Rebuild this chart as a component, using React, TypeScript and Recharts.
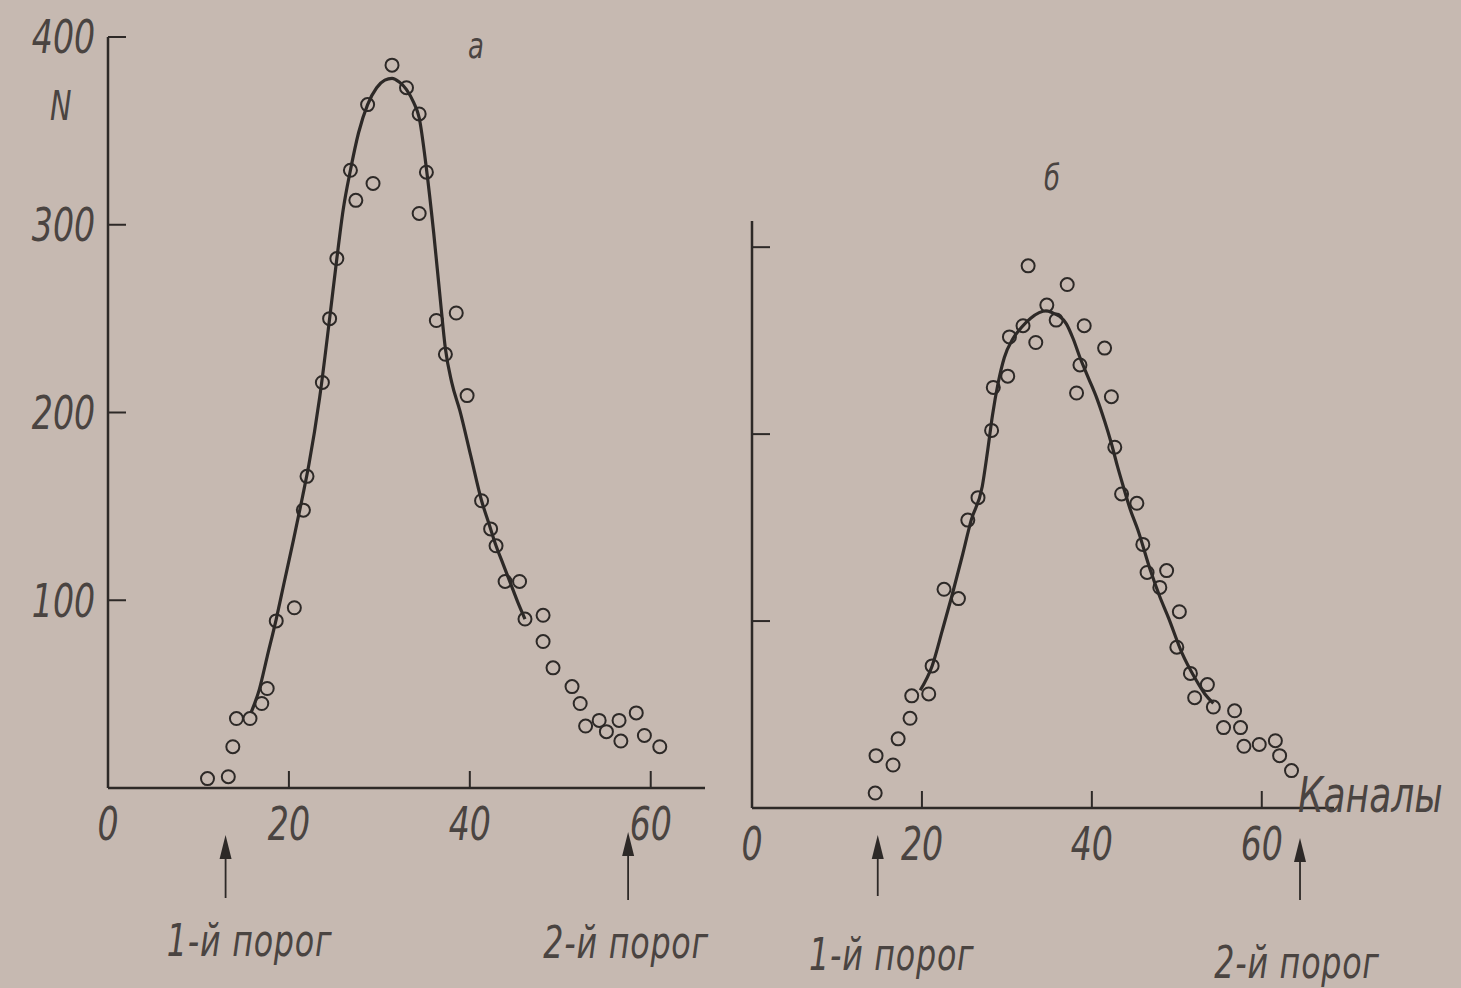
import { ComposedChart, Line, Scatter, XAxis, YAxis, ReferenceLine } from 'recharts';

// ---------- panel "а" ----------
const LEFT_PT_CH = [11.0, 13.3, 13.8, 14.2, 15.7, 17.0, 17.6, 18.6, 20.6, 21.6, 22.0, 23.7, 24.5, 25.3, 26.8, 27.4, 28.7, 29.3, 31.4, 33.0, 34.4, 34.4, 35.2, 36.3, 37.3, 38.5, 39.7, 41.3, 42.3, 42.9, 43.9, 45.5, 46.1, 48.1, 48.1, 49.2, 51.3, 52.2, 52.8, 54.3, 55.1, 56.5, 56.7, 58.4, 59.3, 61.0];
const LEFT_PT_N = [5, 6, 22, 37, 37, 45, 53, 89, 96, 148, 166, 216, 250, 282, 329, 313, 364, 322, 385, 373, 359, 306, 328, 249, 231, 253, 209, 153, 138, 129, 110, 110, 90, 92, 78, 64, 54, 45, 33, 36, 30, 36, 25, 40, 28, 22];

const LEFT_CURVE_CH = [15.8, 16.7, 17.6, 18.6, 19.5, 20.5, 21.5, 22.2, 23.4, 24.5, 25.3, 26.0, 26.8, 27.7, 28.7, 29.7, 30.6, 31.4, 32.2, 33.0, 33.8, 34.4, 35.2, 36.0, 36.7, 37.3, 38.0, 38.9, 40.1, 41.3, 42.1, 42.9, 43.7, 44.5, 45.3, 46.1];
const LEFT_CURVE_N = [40, 52, 70, 90, 110, 132, 155, 172, 208, 250, 282, 308, 329, 349, 364, 373, 377, 378, 376, 372, 365, 357, 330, 296, 262, 234, 216, 201, 177, 153, 141, 129, 119, 109, 99, 90];

const LEFT_X_TICKS = [0, 20, 40, 60];
const LEFT_Y_TICKS = [100, 200, 300, 400];

// ---------- panel "б" ----------
const RIGHT_PT_CH = [14.5, 14.6, 16.6, 17.2, 18.6, 18.8, 20.8, 21.2, 22.6, 24.3, 25.4, 26.6, 28.2, 28.4, 30.1, 30.3, 31.9, 32.5, 33.4, 34.7, 35.8, 37.1, 38.2, 38.6, 39.1, 41.5, 42.3, 42.7, 43.5, 45.3, 46.0, 46.5, 48.0, 48.8, 50.0, 50.3, 51.6, 52.1, 53.6, 54.3, 55.5, 56.8, 57.5, 57.9, 59.7, 61.6, 62.1, 63.5];
const RIGHT_PT_N = [8, 28, 23, 37, 48, 60, 61, 76, 117, 112, 154, 166, 202, 225, 231, 252, 258, 290, 249, 269, 261, 280, 222, 237, 258, 246, 220, 193, 168, 163, 141, 126, 118, 127, 86, 105, 72, 59, 66, 54, 43, 52, 43, 33, 34, 36, 28, 20];

const RIGHT_CURVE_CH = [19.8, 21.2, 22.4, 23.5, 24.7, 25.8, 27.1, 27.7, 28.3, 29.0, 29.7, 30.7, 31.7, 32.8, 33.8, 34.6, 35.3, 36.2, 37.0, 37.8, 38.6, 39.6, 40.6, 41.5, 42.3, 43.0, 43.7, 44.5, 45.4, 46.9, 48.0, 49.0, 50.6, 52.2, 53.3, 54.3];
const RIGHT_CURVE_N = [63, 76, 95, 113, 134, 154, 172, 190, 210, 228, 241, 251, 257, 262, 265, 266, 265, 263, 259, 251, 241, 230, 219, 207, 195, 183, 172, 160, 149, 127, 113, 102, 83, 69, 61, 56];

const RIGHT_X_TICKS = [0, 20, 40, 60];
const RIGHT_Y_TICKS = [100, 200, 300];

// thresholds (channels)
const LEFT_THRESHOLDS = [13, 57.5];
const RIGHT_THRESHOLDS = [14.8, 64.5];
const THRESHOLD_LABELS = ['1-й порог', '2-й порог'];

const zip = (xs: number[], ys: number[]) => xs.map((ch, i) => ({ ch, n: ys[i] }));

const BG = '#c6b9b1';
const INK = '#2d2927';
const TEXT = '#4a4441';
const FONT = "'DejaVu Sans Condensed', 'DejaVu Sans', sans-serif";
const SQUEEZE = 0.8;

// italic, squeezed tick text (the book uses a narrow drafting font)
const narrowTick = (dy: string, size: number) => (p: any) => (
  <g transform={`translate(${p.x},${p.y})`}>
    <text
      transform={`scale(${SQUEEZE},1)`}
      textAnchor={p.textAnchor}
      dy={dy}
      fontSize={size}
      fontStyle="italic"
      fontFamily={FONT}
      fill={TEXT}
    >
      {p.payload.value}
    </text>
  </g>
);

const noTick = () => <g />;

const Ring = (p: any) => (
  <circle cx={p.cx} cy={p.cy} r={6.5} fill="none" stroke={INK} strokeWidth={2} />
);

function ThresholdMark(p: any) {
  const x = p.x1;
  const bottom = Math.max(p.y1, p.y2);
  const top = bottom + p.head;
  return (
    <g>
      <line x1={x} x2={x} y1={top + 12} y2={bottom + p.tail} stroke={INK} strokeWidth={1.8} />
      <polygon points={`${x},${top} ${x - 6},${top + 24} ${x + 6},${top + 24}`} fill={INK} />
      <g transform={`translate(${x + p.dx},${bottom + p.textY})`}>
        <text
          transform={`scale(${SQUEEZE},1)`}
          textAnchor="middle"
          fontSize={44}
          fontStyle="italic"
          fontFamily={FONT}
          fill={TEXT}
          letterSpacing={1}
        >
          {p.caption}
        </text>
      </g>
    </g>
  );
}

function Panel({
  pts,
  curve,
  xTicks,
  yTicks,
  yDomain,
  xMax,
  width,
  height,
  xAxisHeight,
  marginTop,
  marginLeft,
  marginRight,
  showYLabels,
  thresholds,
  mark,
}: any) {
  return (
    <ComposedChart
      width={width}
      height={height}
      margin={{ top: marginTop, right: marginRight, left: marginLeft, bottom: 0 }}
    >
      <XAxis
        type="number"
        dataKey="ch"
        domain={[0, xMax]}
        ticks={xTicks}
        allowDataOverflow
        height={xAxisHeight}
        tickSize={-17}
        tickMargin={36}
        axisLine={{ stroke: INK, strokeWidth: 2.5 }}
        tickLine={{ stroke: INK, strokeWidth: 2 }}
        tick={narrowTick('0.71em', 46)}
      />
      <YAxis
        type="number"
        dataKey="n"
        domain={yDomain}
        ticks={yTicks}
        allowDataOverflow
        width={100}
        tickSize={-18}
        tickMargin={31}
        axisLine={{ stroke: INK, strokeWidth: 2.5 }}
        tickLine={{ stroke: INK, strokeWidth: 2 }}
        tick={showYLabels ? narrowTick('0.355em', 46) : noTick}
      />
      <Line
        data={curve}
        dataKey="n"
        type="monotone"
        dot={false}
        stroke={INK}
        strokeWidth={3.2}
        isAnimationActive={false}
      />
      <Scatter data={pts} dataKey="n" shape={Ring} isAnimationActive={false} />
      {thresholds.map((t: number, i: number) => (
        <ReferenceLine
          key={t}
          x={t}
          shape={(p: any) => (
            <ThresholdMark {...p} {...mark[i]} caption={THRESHOLD_LABELS[i]} />
          )}
        />
      ))}
    </ComposedChart>
  );
}

const label = (left: number, top: number, size: number, text: string) => (
  <div
    style={{
      position: 'absolute',
      left,
      top,
      fontSize: size,
      fontStyle: 'italic',
      fontFamily: FONT,
      color: TEXT,
      lineHeight: 1,
      whiteSpace: 'nowrap',
      transform: `scaleX(${SQUEEZE})`,
      transformOrigin: 'left top',
    }}
  >
    {text}
  </div>
);

export default function App() {
  return (
    <div
      style={{
        position: 'absolute',
        left: 0,
        top: 0,
        width: 1461,
        height: 988,
        background: BG,
        overflow: 'hidden',
      }}
    >
      <div style={{ position: 'absolute', left: 0, top: 0 }}>
        <Panel
          pts={zip(LEFT_PT_CH, LEFT_PT_N)}
          curve={zip(LEFT_CURVE_CH, LEFT_CURVE_N)}
          xTicks={LEFT_X_TICKS}
          yTicks={LEFT_Y_TICKS}
          yDomain={[0, 400]}
          xMax={66}
          width={715}
          height={988}
          xAxisHeight={200}
          marginTop={37}
          marginLeft={8}
          marginRight={10}
          showYLabels
          thresholds={LEFT_THRESHOLDS}
          mark={[
            { head: 47, tail: 110, textY: 168, dx: 24 },
            { head: 44, tail: 112, textY: 170, dx: -2 },
          ]}
        />
      </div>
      <div style={{ position: 'absolute', left: 640, top: 0 }}>
        <Panel
          pts={zip(RIGHT_PT_CH, RIGHT_PT_N)}
          curve={zip(RIGHT_CURVE_CH, RIGHT_CURVE_N)}
          xTicks={RIGHT_X_TICKS}
          yTicks={RIGHT_Y_TICKS}
          yDomain={[0, 314]}
          xMax={68.5}
          width={821}
          height={988}
          xAxisHeight={180}
          marginTop={221}
          marginLeft={12}
          marginRight={127}
          showYLabels={false}
          thresholds={RIGHT_THRESHOLDS}
          mark={[
            { head: 27, tail: 88, textY: 162, dx: 14 },
            { head: 30, tail: 92, textY: 170, dx: -3 },
          ]}
        />
      </div>
      {label(50, 86, 40, 'N')}
      {label(468, 28, 36, 'а')}
      {label(1044, 160, 36, 'б')}
      {label(1298, 770, 50, 'Каналы')}
    </div>
  );
}
